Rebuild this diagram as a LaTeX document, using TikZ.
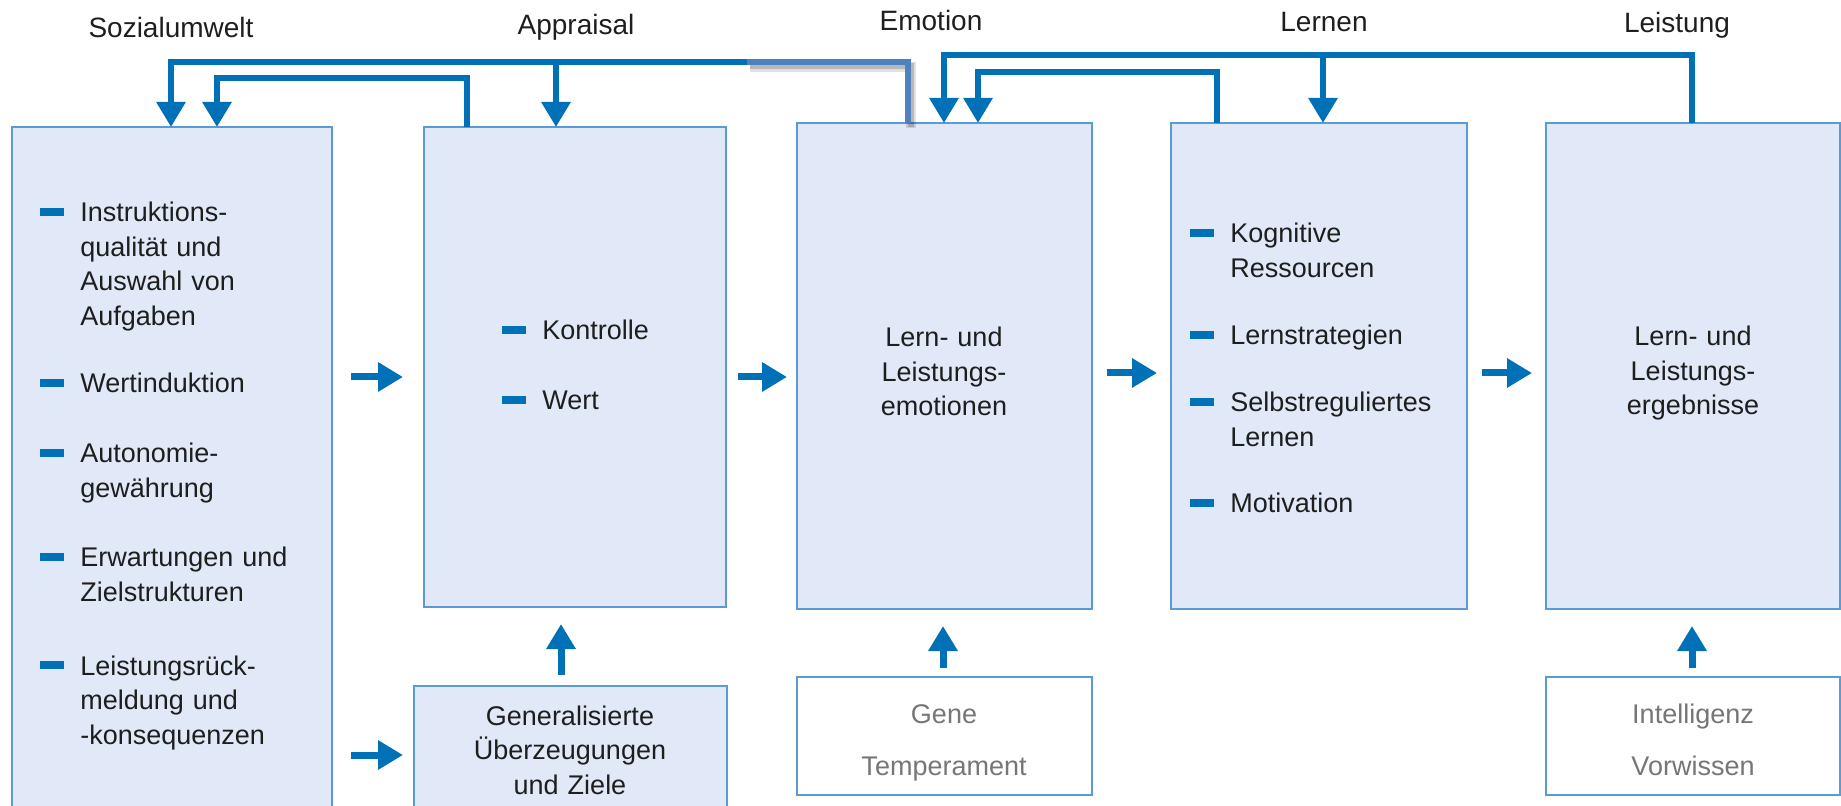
\documentclass[tikz,border=0pt]{standalone}
\usepackage{fontspec}
\setmainfont{Liberation Sans}
\usetikzlibrary{arrows.meta,calc}

\definecolor{boxfill}{RGB}{225,232,247}
\definecolor{boxline}{RGB}{91,155,213}
\definecolor{arrowblue}{RGB}{0,112,183}
\definecolor{linkblue}{RGB}{79,129,189}
\definecolor{bodytext}{RGB}{30,30,30}
\definecolor{softtext}{RGB}{118,118,118}

\tikzset{
  box/.style={draw=boxline, line width=1.3pt, fill=boxfill, inner sep=0pt, outer sep=0pt},
  whitebox/.style={draw=boxline, line width=1.3pt, fill=white, inner sep=0pt, outer sep=0pt},
  itm/.style={anchor=base west, align=left, text width=135pt, inner sep=0pt,
    text=bodytext, font=\fontsize{13.5}{17.25}\selectfont},
  ctr/.style={anchor=base, align=center, text width=150pt, inner sep=0pt,
    text=bodytext, font=\fontsize{13.5}{17.25}\selectfont},
  soft/.style={ctr, text=softtext, font=\fontsize{13.5}{26}\selectfont},
  title/.style={anchor=base, inner sep=0pt, text=bodytext, font=\fontsize{14}{17}\selectfont},
  fwd/.style={arrowblue, line width=3.5pt, -{Triangle[length=12.5pt,width=14pt]}},
  fb/.style={arrowblue, line width=3pt, line join=miter},
  fbtip/.style={fb, -{Triangle[length=12.5pt,width=14pt]}},
  bullet/.style={fill=arrowblue},
}

% bulleted list entry: node plus its blue dash
\newcommand\bitem[4]{%
  \node[itm] (#1) at (#2,#3) {#4};
  \fill[bullet] ([shift={(-20pt,3pt)}]#1.base west) rectangle ([shift={(-8pt,7pt)}]#1.base west);
}

\begin{document}
\begin{tikzpicture}[x=0.5pt, y=-0.5pt]
\useasboundingbox (0,0) rectangle (1841,806);
\clip (0,0) rectangle (1841,806);

% column headings
\node[title] (tSoz) at (171,38) {Sozialumwelt};
\node[title] (tApp) at (576,35) {Appraisal};
\node[title] (tEmo) at (931,31) {Emotion};
\node[title] (tLern) at (1324,32) {Lernen};
\node[title] (tLeis) at (1677,33) {Leistung};

% main boxes
\node[box, minimum width=160pt, minimum height=351.5pt] (soz) at (172,478.5) {};
\node[box, minimum width=151pt, minimum height=240pt] (app) at (575,367) {};
\node[box, minimum width=147.5pt, minimum height=243pt] (emo) at (944.5,366) {};
\node[box, minimum width=148pt, minimum height=243pt] (lern) at (1319,366) {};
\node[box, minimum width=147pt, minimum height=243pt] (leis) at (1693,366) {};
\node[box, minimum width=156.5pt, minimum height=72pt] (gen) at (570.5,758) {};
\node[whitebox, minimum width=147.5pt, minimum height=59pt] (gene) at (944.5,736) {};
\node[whitebox, minimum width=147pt, minimum height=59pt] (intel) at (1693,736) {};

% box contents
\bitem{s1}{80}{222}{Instruktions-\\qualität und\\Auswahl von\\Aufgaben}
\bitem{s2}{80}{393}{Wertinduktion}
\bitem{s3}{80}{463}{Autonomie-\\gewährung}
\bitem{s4}{80}{567}{Erwartungen und\\Zielstrukturen}
\bitem{s5}{80}{675}{Leistungsrück-\\meldung und\\-konsequenzen}

\bitem{a1}{542}{340}{Kontrolle}
\bitem{a2}{542}{410}{Wert}

\bitem{l1}{1230}{243}{Kognitive\\Ressourcen}
\bitem{l2}{1230}{345}{Lernstrategien}
\bitem{l3}{1230}{412}{Selbstreguliertes\\Lernen}
\bitem{l4}{1230}{513}{Motivation}

\node[ctr] (emoT) at (944,347) {Lern- und\\Leistungs-\\emotionen};
\node[ctr] (leisT) at (1693,346) {Lern- und\\Leistungs-\\ergebnisse};
\node[ctr] (genT) at (570,725) {Generalisierte\\Überzeugungen\\und Ziele};
\node[soft] (geneT) at (944,723) {Gene\\Temperament};
\node[soft] (intelT) at (1693,723) {Intelligenz\\Vorwissen};

% forward arrows
\coordinate (r1) at (0,377);
\coordinate (r2) at (0,755);
\coordinate (r3) at (0,373);
\draw[fwd, shorten <=9.5pt, shorten >=10.5pt] (soz.east |- r1) -- (app.west |- r1);
\draw[fwd, shorten <=9.5pt, shorten >=5.5pt] (soz.east |- r2) -- (gen.west |- r2);
\draw[fwd, shorten <=6pt, shorten >=5pt] (app.east |- r1) -- (emo.west |- r1);
\draw[fwd, shorten <=7.5pt, shorten >=7pt] (emo.east |- r3) -- (lern.west |- r3);
\draw[fwd, shorten <=7.5pt, shorten >=7pt] (lern.east |- r3) -- (leis.west |- r3);

% upward arrows from the lower boxes
\coordinate (u1) at (561,0);
\coordinate (u2) at (943,0);
\coordinate (u3) at (1692,0);
\draw[fwd, shorten <=5.5pt, shorten >=8.5pt] (gen.north -| u1) -- (app.south -| u1);
\draw[fwd, shorten <=4.5pt, shorten >=8.5pt] (gene.north -| u2) -- (emo.south -| u2);
\draw[fwd, shorten <=4.5pt, shorten >=8.5pt] (intel.north -| u3) -- (leis.south -| u3);

% feedback loops, left group
\coordinate (xa) at (171,0);
\coordinate (xb) at (556,0);
\coordinate (xc) at (467,0);
\coordinate (xd) at (217,0);
\coordinate (kL) at (908,0);
\coordinate (jL) at (747,62);
\coordinate (yc) at (0,78);

\draw[black, opacity=0.12, line width=5pt, transform canvas={shift={(1.5pt,-2.5pt)}}]
  (emo.north -| kL) |- (jL);
\draw[black, opacity=0.18, line width=3pt, transform canvas={shift={(1.5pt,-2pt)}}]
  (emo.north -| kL) |- (jL);
\draw[fb, draw=linkblue] (emo.north -| kL) |- (jL);
\draw[fbtip] (jL) -| (soz.north -| xa);
\draw[fbtip] (xb |- jL) -- (app.north -| xb);
\draw[fbtip] (app.north -| xc) -- (xc |- yc) -| (soz.north -| xd);

% feedback loops, right group
\coordinate (xe) at (1692,0);
\coordinate (ye) at (0,55);
\coordinate (xf) at (944,0);
\coordinate (xg) at (1323,0);
\coordinate (xh) at (1217,0);
\coordinate (yh) at (0,72);
\coordinate (xi) at (978,0);

\draw[fbtip] (leis.north -| xe) -- (xe |- ye) -| (emo.north -| xf);
\draw[fbtip] (xg |- ye) -- (lern.north -| xg);
\draw[fbtip] (lern.north -| xh) -- (xh |- yh) -| (emo.north -| xi);
\end{tikzpicture}
\end{document}
